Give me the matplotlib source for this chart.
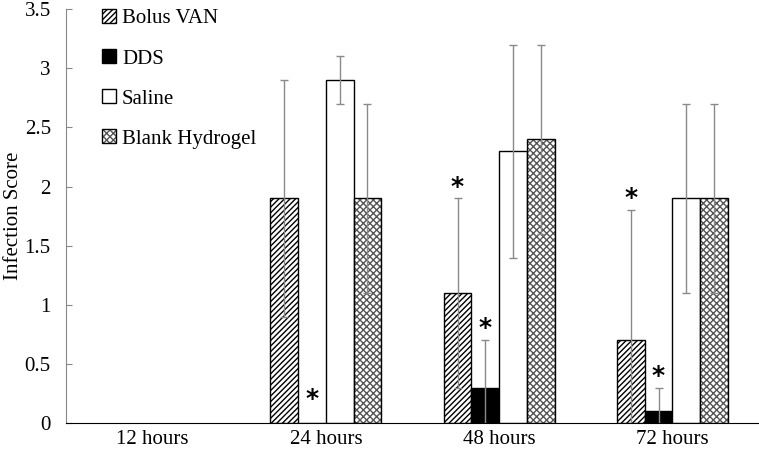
import matplotlib.pyplot as plt
import numpy as np

plt.rcParams["font.family"] = ["Liberation Serif", "DejaVu Serif"]
plt.rcParams["hatch.linewidth"] = 1.0

categories = ["12 hours", "24 hours", "48 hours", "72 hours"]
series = ["Bolus VAN", "DDS", "Saline", "Blank Hydrogel"]

bolus_van = [np.nan, 1.9, 1.1, 0.7]
dds = [np.nan, 0.0, 0.3, 0.1]
saline = [np.nan, 2.9, 2.3, 1.9]
blank_hydrogel = [np.nan, 1.9, 2.4, 1.9]

bolus_err = [np.nan, 1.0, 0.8, 1.1]
dds_err = [np.nan, 0.0, 0.4, 0.2]
saline_err = [np.nan, 0.2, 0.9, 0.8]
blank_err = [np.nan, 0.8, 0.8, 0.8]

# asterisks: (category index, series index, y)
stars = [(1, 1, 0.2), (2, 0, 2.0), (2, 1, 0.8), (3, 0, 1.9), (3, 1, 0.4)]

values = [bolus_van, dds, saline, blank_hydrogel]
errors = [bolus_err, dds_err, saline_err, blank_err]
facecolors = ["white", "black", "white", "white"]
hatches = ["//////", None, None, "xxxxx"]
hatch_colors = ["black", "black", "black", "#555555"]

fig = plt.figure(figsize=(7.59, 4.54), dpi=100)
ax = fig.add_axes([0.087, 0.068, 0.913, 0.912])

x = np.arange(len(categories))
width = 0.16
offsets = (np.arange(4) - 1.5) * width

for i in range(4):
    bars = ax.bar(
        x + offsets[i],
        values[i],
        width,
        color=facecolors[i],
        edgecolor="black",
        linewidth=1.0,
        hatch=hatches[i],
        label=series[i],
        zorder=2,
    )
    for b in bars:
        b._hatch_color = plt.matplotlib.colors.to_rgba(hatch_colors[i])
    mask = ~np.isnan(np.array(values[i], dtype=float))
    errs = np.array(errors[i], dtype=float)
    shown = mask & (errs > 0)
    ax.errorbar(
        (x + offsets[i])[shown],
        np.array(values[i], dtype=float)[shown],
        yerr=errs[shown],
        fmt="none",
        ecolor="#8a8a8a",
        elinewidth=1.0,
        capsize=3,
        capthick=1.0,
        zorder=3,
    )

for ci, si, yv in stars:
    ax.text(x[ci] + offsets[si], yv, "*", ha="center", va="center",
            fontsize=18, fontweight="bold", fontfamily="DejaVu Sans", zorder=4)

ax.set_xlim(-0.5, 3.5)
ax.set_ylim(0, 3.5)
ax.set_yticks(np.arange(0, 3.51, 0.5))
ax.set_yticklabels(["0", "0.5", "1", "1.5", "2", "2.5", "3", "3.5"])
ax.set_xticks(x)
ax.set_xticklabels(categories)
ax.tick_params(axis="x", length=0, pad=5, labelsize=15)
ax.tick_params(axis="y", length=4, direction="in", color="#888888",
               labelsize=15, pad=11)
ax.set_ylabel("Infection Score", fontsize=15, labelpad=1)

for s in ["top", "right"]:
    ax.spines[s].set_visible(False)
ax.spines["left"].set_color("#888888")
ax.spines["bottom"].set_color("black")

leg = ax.legend(
    loc="upper left",
    bbox_to_anchor=(0.04, 1.02),
    frameon=False,
    fontsize=15,
    handlelength=0.65,
    handleheight=0.65,
    handletextpad=0.3,
    labelspacing=1.0,
    borderaxespad=0,
)

fig.savefig("out.png", dpi=100)
